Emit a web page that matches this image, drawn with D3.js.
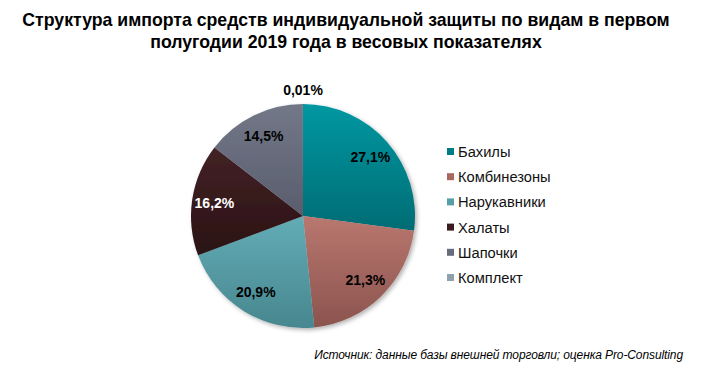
<!DOCTYPE html>
<html>
<head>
<meta charset="utf-8">
<script src="https://cdn.jsdelivr.net/npm/d3@7"></script>
<style>
  body { margin: 0; background: #fff; }
  text { font-family: Arial, "Liberation Sans", sans-serif; }
</style>
</head>
<body>
<div id="chart"></div>
<script>
// data
const titleLines = [
  'Структура импорта средств индивидуальной защиты по видам в первом',
  'полугодии 2019 года в весовых показателях'
];
const categories = ['Бахилы', 'Комбинезоны', 'Нарукавники', 'Халаты', 'Шапочки', 'Комплект'];
const shares = [27.1, 21.3, 20.9, 16.2, 14.5, 0.01];
const shareLabels = ['27,1%', '21,3%', '20,9%', '16,2%', '14,5%', '0,01%'];
const source = 'Источник: данные базы внешней торговли; оценка Pro-Consulting';

// gradient top / bottom per slice, legend swatch colour
const topColors = ['#0098a2', '#b9776f', '#62acb6', '#432226', '#737889', '#95a9b5'];
const bottomColors = ['#006c74', '#8b544e', '#48878f', '#2a1214', '#595d6c', '#7f919c'];
const swatchColors = ['#007c85', '#a9685f', '#569ea8', '#3a1c1f', '#676b7c', '#8ea1ac'];
const labelColors = ['#000', '#000', '#000', '#fff', '#000', '#000'];

const width = 704;
const height = 368;
const cx = 303, cy = 216, radius = 112;

const svg = d3.select('#chart')
  .append('svg')
  .attr('width', width)
  .attr('height', height)
  .style('background-color', 'white');

const defs = svg.append('defs');

categories.forEach((c, i) => {
  const g = defs.append('linearGradient')
    .attr('id', 'grad' + i)
    .attr('x1', 0).attr('y1', 0).attr('x2', 0).attr('y2', 1);
  g.append('stop').attr('offset', '0%').attr('stop-color', topColors[i]);
  g.append('stop').attr('offset', '100%').attr('stop-color', bottomColors[i]);
});

const shadow = defs.append('filter')
  .attr('id', 'shadow')
  .attr('x', '-10%').attr('y', '-10%').attr('width', '120%').attr('height', '120%');
shadow.append('feDropShadow')
  .attr('dx', 2).attr('dy', 2).attr('stdDeviation', 2)
  .attr('flood-color', '#000').attr('flood-opacity', 0.3);

// title
svg.append('g')
  .selectAll('text')
  .data(titleLines)
  .enter().append('text')
  .attr('x', 346)
  .attr('y', (d, i) => 26 + i * 22)
  .attr('text-anchor', 'middle')
  .attr('font-size', 17.7)
  .attr('font-weight', 'bold')
  .attr('fill', '#000')
  .text(d => d);

// pie
const pie = d3.pie().sort(null).value(d => d);
const arcs = pie(shares);
const arc = d3.arc().innerRadius(0).outerRadius(radius);
const labelArc = d3.arc().innerRadius(radius * 0.8).outerRadius(radius * 0.8);

const g = svg.append('g')
  .attr('transform', `translate(${cx}, ${cy})`);

g.append('g')
  .attr('filter', 'url(#shadow)')
  .selectAll('path')
  .data(arcs)
  .enter().append('path')
  .attr('d', arc)
  .attr('fill', (d, i) => `url(#grad${i})`);

g.selectAll('.label')
  .data(arcs)
  .enter().append('text')
  .attr('class', 'label')
  .attr('transform', (d, i) => {
    if (d.data < 1) {
      return `translate(0, ${-radius - 14})`;
    }
    return `translate(${labelArc.centroid(d)})`;
  })
  .attr('text-anchor', 'middle')
  .attr('dy', '0.36em')
  .attr('font-size', 14)
  .attr('font-weight', 'bold')
  .attr('fill', (d, i) => labelColors[i])
  .text((d, i) => shareLabels[i]);

// legend
const legend = svg.append('g')
  .attr('transform', 'translate(447, 157)');

const rows = legend.selectAll('g')
  .data(categories)
  .enter().append('g')
  .attr('transform', (d, i) => `translate(0, ${i * 25.2})`);

rows.append('rect')
  .attr('x', 0)
  .attr('y', -9)
  .attr('width', 7)
  .attr('height', 7)
  .attr('fill', (d, i) => swatchColors[i]);

rows.append('text')
  .attr('x', 11)
  .attr('y', 0)
  .attr('font-size', 14.7)
  .attr('fill', '#111')
  .text(d => d);

// source note
svg.append('text')
  .attr('x', 683)
  .attr('y', 359)
  .attr('text-anchor', 'end')
  .attr('font-size', 12)
  .attr('font-style', 'italic')
  .attr('letter-spacing', -0.1)
  .attr('fill', '#000')
  .text(source);
</script>
</body>
</html>
